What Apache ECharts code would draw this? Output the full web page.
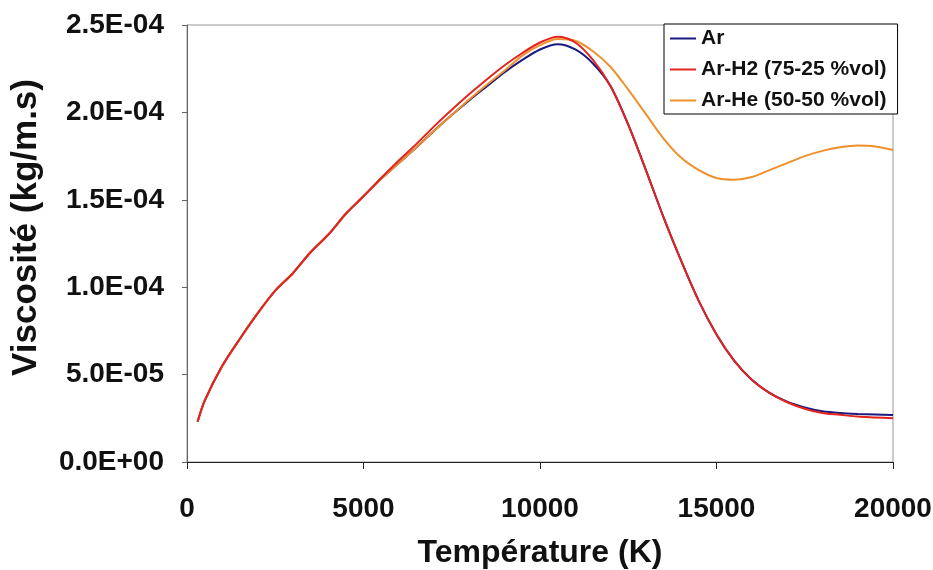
<!DOCTYPE html>
<html>
<head>
<meta charset="utf-8">
<script src="https://cdn.jsdelivr.net/npm/echarts@6/dist/echarts.min.js"></script>
<style>
  html, body { margin: 0; padding: 0; background: #fff; }
  #chart { width: 933px; height: 570px; }
</style>
</head>
<body>
<div id="chart"></div>
<script>
// temperatures (K)
var temps = [300, 500, 1000, 1500, 2000, 2500, 3000, 3500, 4000, 4500, 5000, 5500, 6000, 6500, 7000,
  7500, 8000, 8500, 9000, 9500, 10000, 10500, 11000, 11500, 12000, 12500, 13000, 13500, 14000, 14500,
  15000, 15500, 16000, 16500, 17000, 17500, 18000, 18500, 19000, 19500, 20000];

// viscosity, in units of 1E-05 kg/m.s
var ar = [2.3, 3.5, 5.5, 7.05, 8.5, 9.8, 10.8, 12.0, 13.0, 14.2, 15.2, 16.2, 17.1, 18.0, 18.95,
  19.85, 20.7, 21.5, 22.3, 23.0, 23.6, 23.9, 23.6, 22.8, 21.5, 19.3, 16.7, 14.0, 11.5, 9.2,
  7.3, 5.8, 4.7, 3.95, 3.45, 3.12, 2.9, 2.8, 2.75, 2.72, 2.69];
var arH2 = [2.3, 3.5, 5.5, 7.05, 8.5, 9.8, 10.8, 12.0, 13.0, 14.2, 15.2, 16.25, 17.25, 18.2, 19.2,
  20.15, 21.05, 21.9, 22.7, 23.4, 24.0, 24.33, 24.0, 23.0, 21.5, 19.3, 16.7, 14.0, 11.5, 9.2,
  7.3, 5.8, 4.7, 3.95, 3.42, 3.05, 2.8, 2.7, 2.6, 2.55, 2.5];
var arHe = [2.3, 3.5, 5.5, 7.05, 8.5, 9.8, 10.8, 12.0, 13.0, 14.2, 15.2, 16.2, 17.1, 18.0, 18.95,
  19.85, 20.75, 21.6, 22.4, 23.25, 23.85, 24.2, 24.1, 23.5, 22.6, 21.3, 19.9, 18.5, 17.4, 16.7,
  16.25, 16.15, 16.3, 16.7, 17.1, 17.5, 17.8, 18.0, 18.1, 18.05, 17.85];

var names = ['Ar', 'Ar-H2 (75-25 %vol)', 'Ar-He (50-50 %vol)'];
var colors = ['#1a1a80', '#e3241e', '#f0902c'];

function pairs(vals) {
  return temps.map(function (t, i) { return [t, vals[i] * 1e-5]; });
}

function sci(v) {
  if (v === 0) return '0.0E+00';
  var e = Math.floor(Math.log10(v) + 1e-9);
  var m = v / Math.pow(10, e);
  var s = e < 0 ? '-' : '+';
  var a = Math.abs(e);
  return m.toFixed(1) + 'E' + s + (a < 10 ? '0' + a : a);
}

var chart = echarts.init(document.getElementById('chart'));
var font = 'Liberation Sans, Arial, sans-serif';

chart.setOption({
  animation: false,
  backgroundColor: '#fff',
  grid: {
    left: 187, right: 40, top: 25, bottom: 108,
    outerBoundsMode: 'none',
    containLabel: false,
    show: true, borderColor: '#999', borderWidth: 1
  },
  legend: {
    data: names,
    orient: 'vertical',
    left: 664, top: 24,
    padding: [4, 11, 3, 6],
    itemGap: 10,
    itemWidth: 26,
    itemHeight: 2,
    icon: 'rect',
    backgroundColor: '#fff',
    borderColor: '#000',
    borderWidth: 1,
    borderRadius: 0,
    textStyle: { fontFamily: font, fontWeight: 'bold', fontSize: 21, color: '#111' }
  },
  xAxis: {
    type: 'value',
    min: 0, max: 20000, interval: 5000,
    name: 'Température (K)',
    nameLocation: 'middle',
    nameGap: 75,
    nameTextStyle: { fontFamily: font, fontWeight: 'bold', fontSize: 32, color: '#111' },
    axisLine: { lineStyle: { color: '#222', width: 1 } },
    axisTick: { show: true, length: 7, lineStyle: { color: '#222' } },
    axisLabel: { margin: 33, fontFamily: font, fontWeight: 'bold', fontSize: 28, color: '#111',
      formatter: function (v) { return String(v); } },
    splitLine: { show: false }
  },
  yAxis: {
    type: 'value',
    min: 0, max: 2.5e-4, interval: 5e-5,
    name: 'Viscosité (kg/m.s)',
    nameLocation: 'middle',
    nameGap: 143,
    nameTextStyle: { fontFamily: font, fontWeight: 'bold', fontSize: 35, color: '#111', padding: [0, 0, 0, 32] },
    axisLine: { show: true, lineStyle: { color: '#666', width: 1 } },
    axisTick: { show: true, length: 5, lineStyle: { color: '#666' } },
    axisLabel: { margin: 23, fontFamily: font, fontWeight: 'bold', fontSize: 28, color: '#111', formatter: sci },
    splitLine: { show: false }
  },
  series: [
    { name: names[0], type: 'line', data: pairs(ar), smooth: 0.3, symbol: 'none', z: 2,
      lineStyle: { color: colors[0], width: 2 }, itemStyle: { color: colors[0] } },
    { name: names[1], type: 'line', data: pairs(arH2), smooth: 0.3, symbol: 'none', z: 4,
      lineStyle: { color: colors[1], width: 2 }, itemStyle: { color: colors[1] } },
    { name: names[2], type: 'line', data: pairs(arHe), smooth: 0.3, symbol: 'none', z: 3,
      lineStyle: { color: colors[2], width: 2 }, itemStyle: { color: colors[2] } }
  ]
});
</script>
</body>
</html>
